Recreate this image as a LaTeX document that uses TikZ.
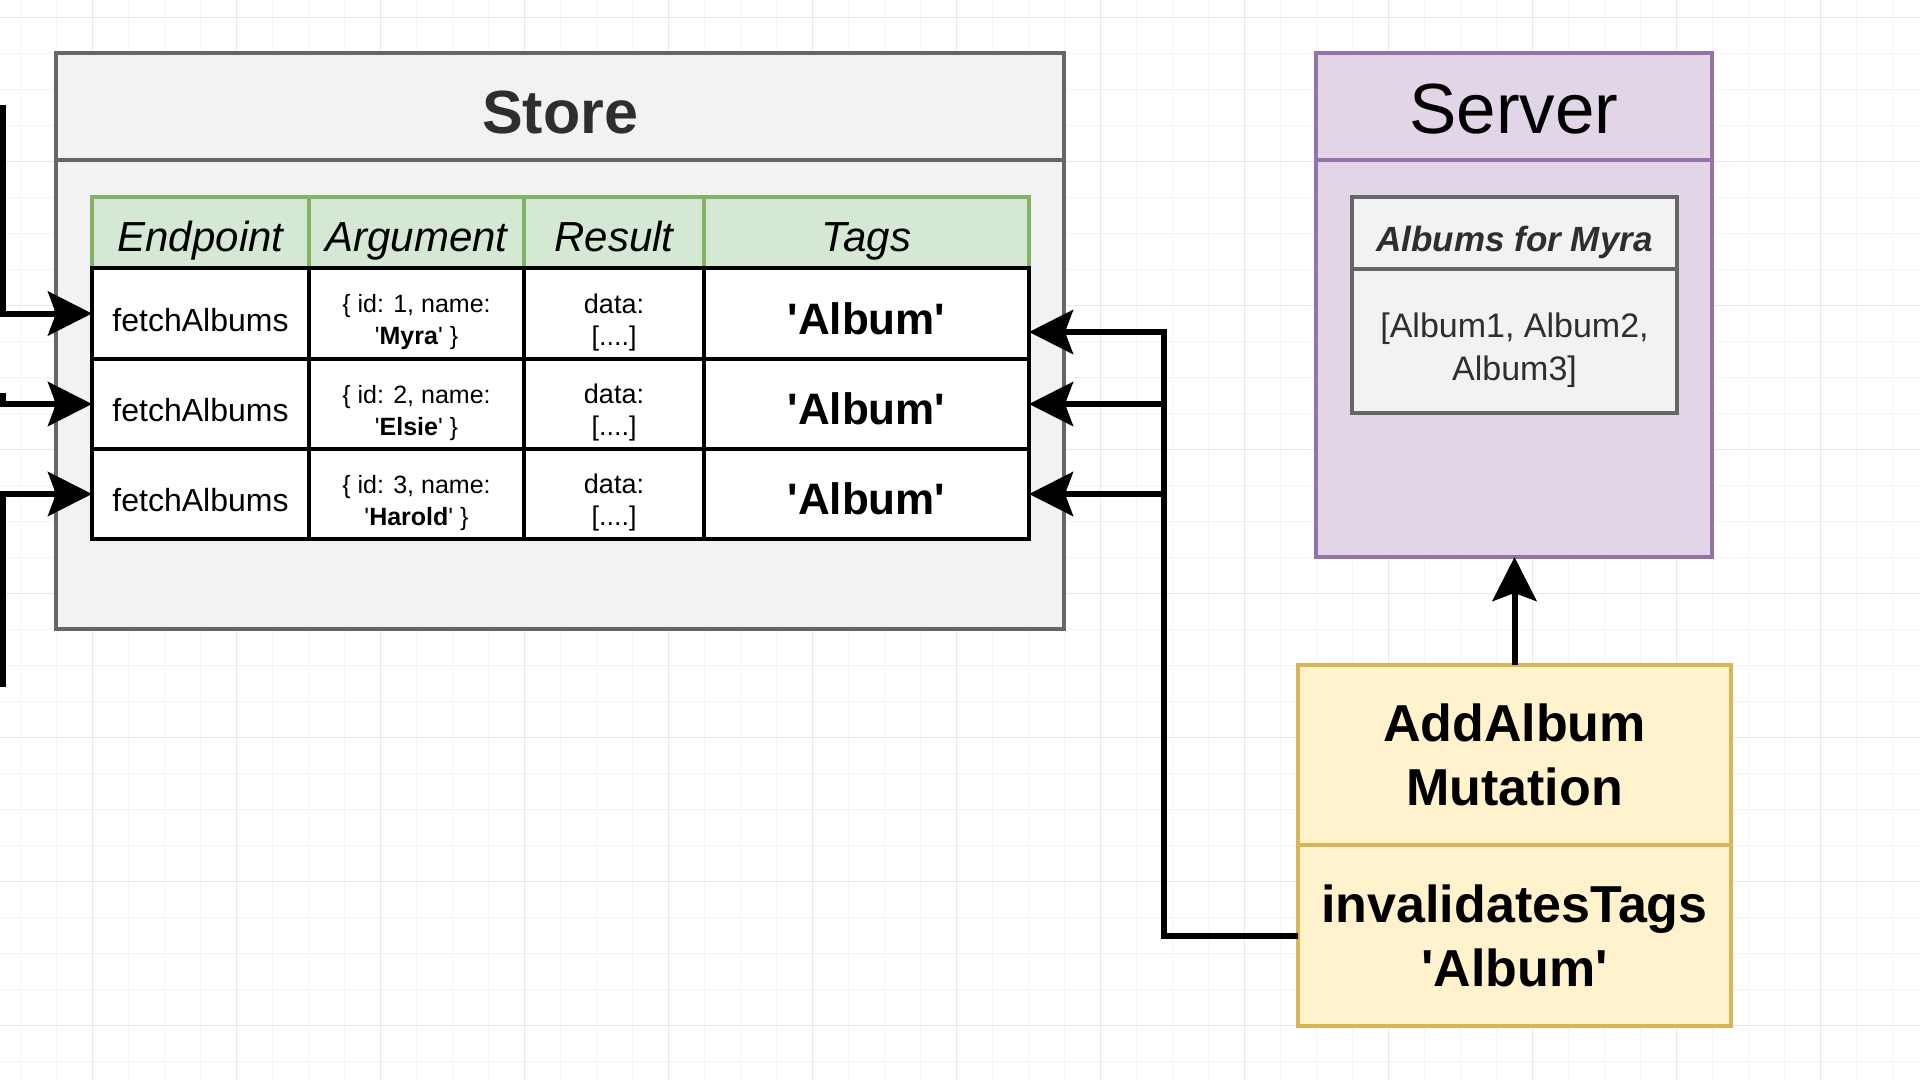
\documentclass[tikz,border=0pt]{standalone}
\usepackage{fontspec}
\setmainfont{Liberation Sans}
\usetikzlibrary{arrows.meta}
\definecolor{storefill}{HTML}{F2F2F2}
\definecolor{storeline}{HTML}{666666}
\definecolor{hdrfill}{HTML}{D5E8D4}
\definecolor{hdrline}{HTML}{82B366}
\definecolor{srvfill}{HTML}{E1D5E7}
\definecolor{srvline}{HTML}{9673A6}
\definecolor{mutfill}{HTML}{FFF2CC}
\definecolor{mutline}{HTML}{D6B656}
\definecolor{gridminor}{HTML}{F4F4F4}
\definecolor{gridmajor}{HTML}{E8E8E8}
\newcommand{\sq}{\textquotesingle}
\newcommand{\vshift}[2]{\raisebox{0pt}[\dimexpr\height+#1\relax][\depth]{#2}}
\begin{document}
\begin{tikzpicture}[x=1pt,y=-1pt,
  box/.style={rectangle, line width=4pt, inner sep=0pt, outer sep=0pt, align=center},
  storebox/.style={box, draw=storeline, fill=storefill},
  hdr/.style={box, draw=hdrline, fill=hdrfill, font=\fontsize{42pt}{50pt}\selectfont\itshape,
              text height=37pt, text depth=0pt},
  cell/.style={box, draw=black, fill=white},
  epcell/.style={cell, font=\fontsize{32pt}{38pt}\selectfont, text height=35pt, text depth=0pt},
  argcell/.style={cell, font=\fontsize{25pt}{32pt}\selectfont},
  rescell/.style={cell, font=\fontsize{27pt}{32pt}\selectfont},
  tagcell/.style={cell, font=\fontsize{44pt}{52pt}\selectfont\bfseries, text height=41pt, text depth=0pt},
  srvbox/.style={box, draw=srvline, fill=srvfill},
  innerbox/.style={box, draw=storeline, fill=storefill},
  mutbox/.style={box, draw=mutline, fill=mutfill, font=\fontsize{52pt}{64pt}\selectfont\bfseries},
  conn/.style={line width=6pt, -{Stealth[length=44pt,width=44pt,inset=8pt]}},
  gmin/.style={draw=gridminor, line width=1pt},
  gmaj/.style={draw=gridmajor, line width=1pt}
]
% canvas
\fill[white] (0,0) rectangle (1920,1080);
\useasboundingbox (0,0) rectangle (1920,1080);
\foreach \gx in {20,56,...,1916} \draw[gmin] (\gx,0) -- (\gx,1080);
\foreach \gy in {17,53,...,1079} \draw[gmin] (0,\gy) -- (1920,\gy);
\foreach \gx in {92,236,...,1916} \draw[gmaj] (\gx,0) -- (\gx,1080);
\foreach \gy in {17,161,...,1079} \draw[gmaj] (0,\gy) -- (1920,\gy);

% Store
\node[storebox, minimum width=1008pt, minimum height=469pt] (storebody) at (560,394.5) {};
\node[storebox, minimum width=1008pt, minimum height=107pt,
      font=\fontsize{61pt}{70pt}\selectfont\bfseries, text=black!82,
      text height=53pt, text depth=0pt] (storehead) at (560,106.5) {Store};

% Table header
\node[hdr, minimum width=217pt, minimum height=71pt] (h1) at (200.5,232.5) {Endpoint};
\node[hdr, minimum width=215pt, minimum height=71pt] (h2) at (416.5,232.5) {Argument};
\node[hdr, minimum width=180pt, minimum height=71pt] (h3) at (614,232.5) {Result};
\node[hdr, minimum width=325pt, minimum height=71pt] (h4) at (866.5,232.5) {Tags};

% Rows
\node[epcell, minimum width=217pt, minimum height=91pt] (ep1) at (200.5,313.5) {fetchAlbums};
\node[argcell, minimum width=215pt, minimum height=91pt] (arg1) at (416.5,313.5) {\vshift{18pt}{\{ id: 1, name:}\\{}\sq\textbf{Myra}\sq\ \}};
\node[rescell, minimum width=180pt, minimum height=91pt] (res1) at (614,313.5) {\vshift{18pt}{data:}\\{}[....]};
\node[tagcell, minimum width=325pt, minimum height=91pt] (tag1) at (866.5,313.5) {\sq Album\sq};

\node[epcell, minimum width=217pt, minimum height=90pt] (ep2) at (200.5,404) {fetchAlbums};
\node[argcell, minimum width=215pt, minimum height=90pt] (arg2) at (416.5,404) {\vshift{18pt}{\{ id: 2, name:}\\{}\sq\textbf{Elsie}\sq\ \}};
\node[rescell, minimum width=180pt, minimum height=90pt] (res2) at (614,404) {\vshift{18pt}{data:}\\{}[....]};
\node[tagcell, minimum width=325pt, minimum height=90pt] (tag2) at (866.5,404) {\sq Album\sq};

\node[epcell, minimum width=217pt, minimum height=90pt] (ep3) at (200.5,494) {fetchAlbums};
\node[argcell, minimum width=215pt, minimum height=90pt] (arg3) at (416.5,494) {\vshift{18pt}{\{ id: 3, name:}\\{}\sq\textbf{Harold}\sq\ \}};
\node[rescell, minimum width=180pt, minimum height=90pt] (res3) at (614,494) {\vshift{18pt}{data:}\\{}[....]};
\node[tagcell, minimum width=325pt, minimum height=90pt] (tag3) at (866.5,494) {\sq Album\sq};

% Server
\node[srvbox, minimum width=396pt, minimum height=397pt] (srvbody) at (1514,358.5) {};
\node[srvbox, minimum width=396pt, minimum height=107pt,
      font=\fontsize{71pt}{80pt}\selectfont, text height=53pt, text depth=0pt] (srvhead) at (1514,106.5) {Server};
\node[innerbox, minimum width=325pt, minimum height=144pt,
      font=\fontsize{34pt}{43pt}\selectfont, text=black!82] (innerbody) at (1514.5,341) {\vshift{18pt}{[Album1, Album2,}\\ Album3]};
\node[innerbox, minimum width=325pt, minimum height=72pt,
      font=\fontsize{35pt}{42pt}\selectfont\bfseries\itshape, text=black!82,
      text height=36pt, text depth=0pt] (innerhead) at (1514.5,233) {Albums for Myra};

% Mutation
\node[mutbox, minimum width=433pt, minimum height=180pt] (muthead) at (1514.5,755) {AddAlbum\\ Mutation};
\node[mutbox, minimum width=433pt, minimum height=181pt] (inv) at (1514.5,935.5) {invalidatesTags\\ \sq Album\sq};

% Connectors
\coordinate (l1) at (3,105);
\coordinate (l2) at (3,393);
\coordinate (l3) at (3,687);
\draw[conn] (l1) |- (ep1.west);
\draw[conn] (l2) |- (ep2.west);
\draw[conn] (l3) |- (ep3.west);

\coordinate (busTop) at (1164,332);
\coordinate (busMid) at (1164,404);
\coordinate (busBot) at (1164,494);
\draw[conn] (inv.west) -| (busTop) -- (tag1.east |- busTop);
\draw[conn] (busMid) -- (tag2.east);
\draw[conn] (busBot) -- (tag3.east);

\draw[conn] (muthead.north) -- (muthead.north |- srvbody.south);
\end{tikzpicture}
\end{document}
